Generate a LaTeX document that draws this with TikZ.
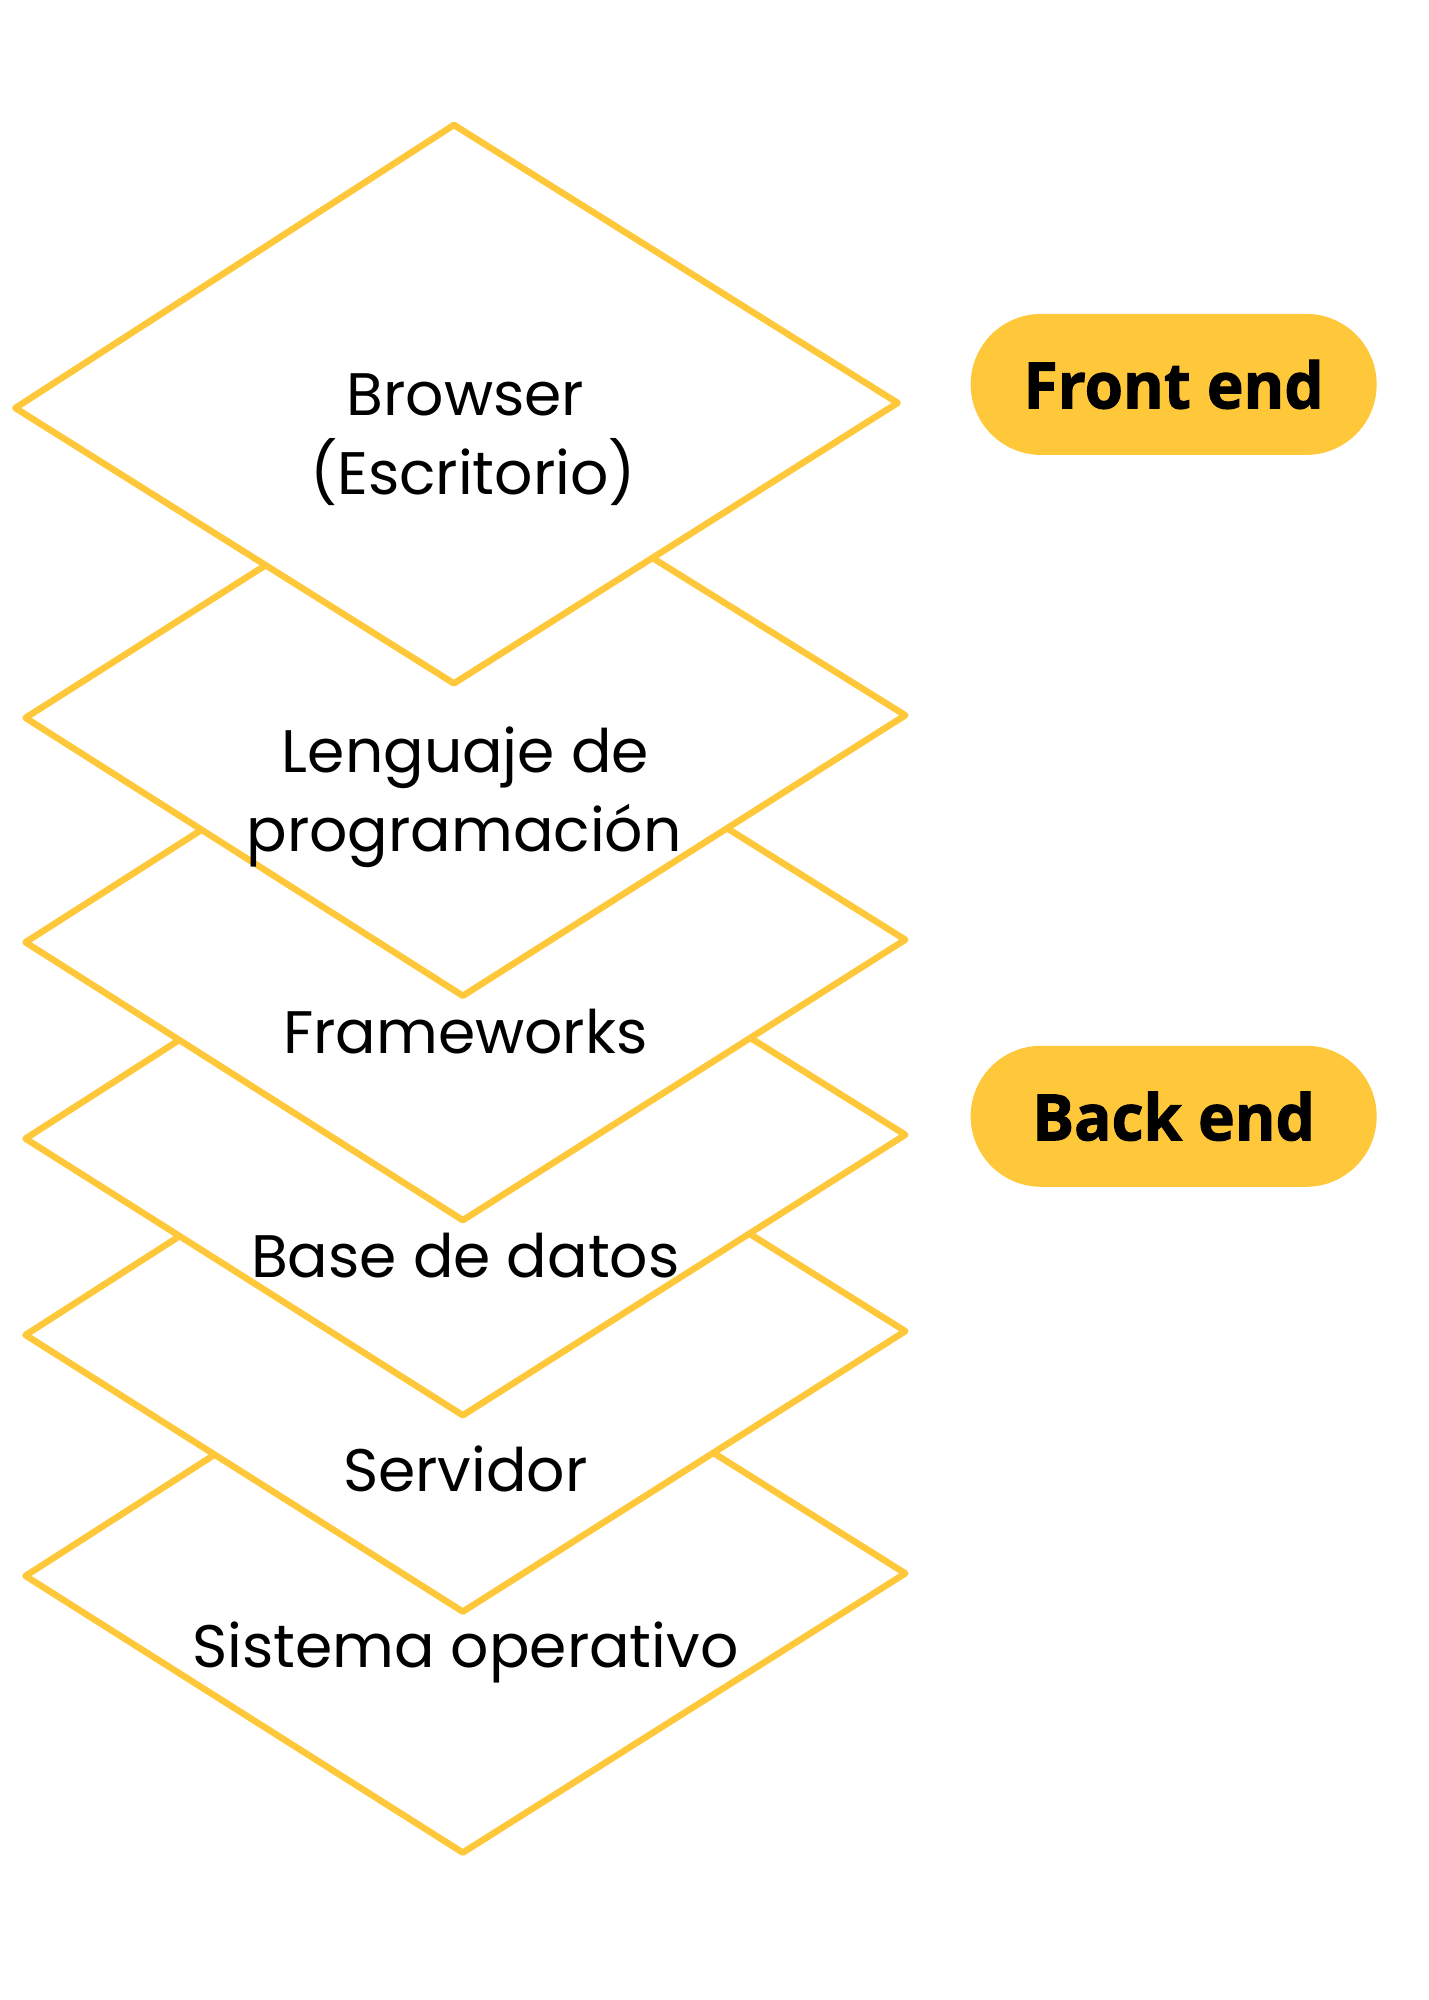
\documentclass[tikz,border=0pt]{standalone}
\usepackage{fontspec}
\setmainfont{Poppins}
\newfontfamily\pillfont[FakeStretch=0.97,BoldFeatures={FakeBold=1.6}]{Open Sans}
\usetikzlibrary{shapes.misc}
\definecolor{gold}{HTML}{FFC83A}
\tikzset{
  layer/.style={draw=gold,fill=white,line width=6.5pt,line join=round},
  lbl/.style={font=\fontsize{60}{72}\selectfont,anchor=base,inner sep=0pt,text=black},
  pill/.style={fill=gold,rounded rectangle,minimum width=406pt,minimum height=141pt,inner sep=0pt,
    font=\pillfont\bfseries\fontsize{64}{76}\selectfont,text=black}
}
\begin{document}
\begin{tikzpicture}[x=1.275pt,y=-1.275pt]
\fill[white] (0,0) rectangle (1120,1568.6);
\useasboundingbox (0,0) rectangle (1120,1568.6);
% layers, bottom first
\draw[layer] (20,1236) -- (363,1016) -- (710,1234) -- (363,1453) -- cycle;
\draw[layer] (20,1047) -- (363,827) -- (710,1044) -- (363,1264) -- cycle;
\draw[layer] (20,893) -- (363,673) -- (710,890) -- (363,1110) -- cycle;
\draw[layer] (20,739) -- (363,520) -- (710,737) -- (363,957) -- cycle;
\draw[layer] (20,563) -- (363,345) -- (710,561) -- (363,781) -- cycle;
\draw[layer] (12,320) -- (356,98) -- (704,316) -- (356,536) -- cycle;
% labels
\node[lbl] (browser) at (365,326) {Browser};
\node[lbl] (escritorio) at (371,388) {(Escritorio)};
\node[lbl] (lenguaje) at (365,606) {Lenguaje de};
\node[lbl] (programacion) at (364,668) {programación};
\node[lbl] (frameworks) at (365,826) {Frameworks};
\node[lbl] (basedatos) at (365,1002) {Base de datos};
\node[lbl] (servidor) at (365,1170) {Servidor};
\node[lbl] (sistema) at (365,1308) {Sistema operativo};
% pills
\node[pill] (front) at (920.5,301.5) {Front end};
\node[pill] (back) at (920.5,875.5) {Back end};
\end{tikzpicture}
\end{document}
